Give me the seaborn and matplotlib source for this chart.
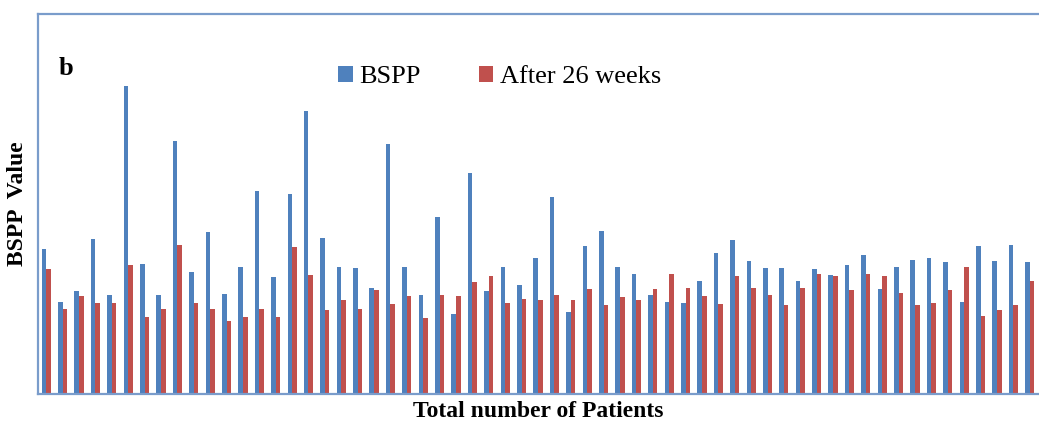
import pandas as pd
import numpy as np
import matplotlib
matplotlib.use("Agg")
import matplotlib.pyplot as plt
import seaborn as sns

# ----------------------------------------------
# Data (arbitrary units)
# ----------------------------------------------
bspp = [145, 92, 103, 155, 99, 308, 130, 99, 253, 122,
        162, 100, 127, 203, 117, 200, 283, 156, 127, 126,
        106, 250, 127, 99, 177, 80, 221, 103, 127, 109,
        136, 197, 82, 148, 163, 127, 120, 99, 92, 91,
        113, 141, 154, 133, 126, 126, 113, 125, 119, 129,
        139, 105, 127, 134, 136, 132, 92, 148, 133, 149, 132]
after_26 = [125, 85, 98, 91, 91, 129, 77, 85, 149, 91,
            85, 73, 77, 85, 77, 147, 119, 84, 94, 85,
            104, 90, 98, 76, 99, 98, 112, 118, 91, 95,
            94, 99, 94, 105, 89, 97, 94, 105, 120, 106,
            98, 90, 118, 106, 99, 89, 106, 120, 118, 104,
            120, 118, 101, 89, 91, 104, 127, 78, 84, 89, 113]
series_names = ["BSPP", "After 26 weeks"]
patients = list(range(1, len(bspp) + 1))

df = pd.DataFrame({
    "Patient": patients * 2,
    "Value": bspp + after_26,
    "Series": [series_names[0]] * len(bspp) + [series_names[1]] * len(after_26),
})

# ----------------------------------------------
# Plot
# ----------------------------------------------
sns.set_style("white")
plt.rcParams["font.family"] = ["Liberation Serif", "DejaVu Serif"]
plt.rcParams["text.color"] = "black"
plt.rcParams["axes.labelcolor"] = "black"

fig = plt.figure(figsize=(10.39, 4.23), dpi=100)
ax = fig.add_axes([38 / 1039, 29 / 423, 1000 / 1039, 380 / 423])

sns.barplot(data=df, x="Patient", y="Value", hue="Series",
            palette=["#4F81BD", "#C0504D"], width=0.56,
            saturation=1, linewidth=0, edgecolor="none", ax=ax, legend=True)

ax.set_ylim(0, 380)
ax.set_xlim(-0.5, len(bspp) - 0.5)
ax.set_xticks([])
ax.set_yticks([])

for side in ["left", "top", "bottom"]:
    ax.spines[side].set_color("#7A9CCB")
    ax.spines[side].set_linewidth(1.6)
ax.spines["right"].set_visible(False)

ax.set_xlabel("Total number of Patients", fontsize=17, fontweight="bold", labelpad=5)
ax.set_ylabel("BSPP  Value", fontsize=17, fontweight="bold", labelpad=7)

ax.text(0.021, 0.84, "b", transform=ax.transAxes, fontsize=19,
        fontweight="bold", va="baseline")

leg = ax.legend(loc="center left", bbox_to_anchor=(0.3, 0.834), ncol=2,
                frameon=False, fontsize=19, handlelength=0.55, handleheight=0.55,
                handletextpad=0.25, columnspacing=2.2, borderpad=0, borderaxespad=0)

fig.savefig("out.png", dpi=100)
